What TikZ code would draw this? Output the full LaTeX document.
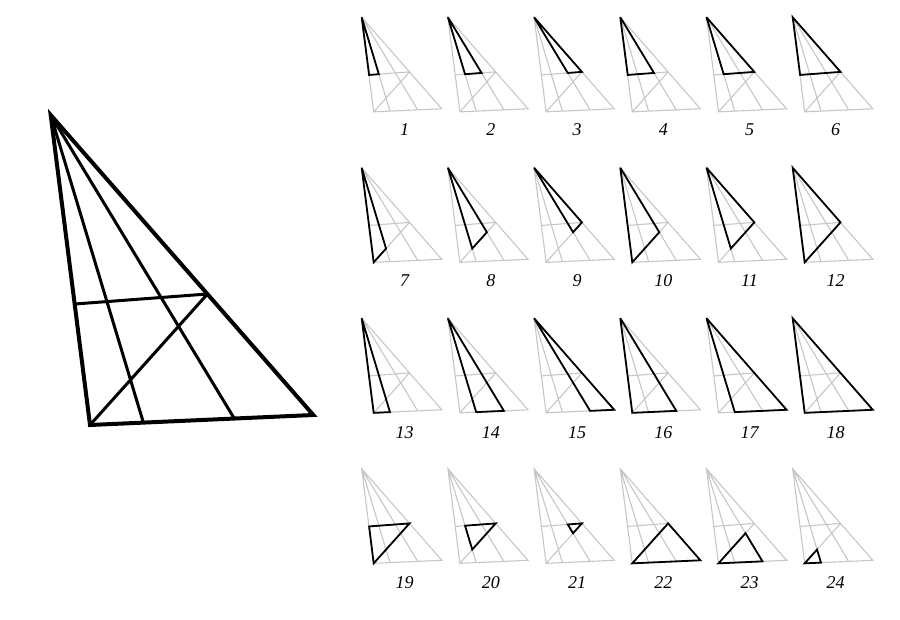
\documentclass[tikz,border=0pt]{standalone}
\usepackage{fontspec}
\setmainfont{Liberation Serif}
\begin{document}
\begin{tikzpicture}[x=1pt,y=-1pt]
\tikzset{
 grayln/.style={draw=black!22, line width=1.1pt},
 hl/.style={draw=black, line width=1.8pt, line join=miter, miter limit=4},
 mainouter/.style={draw=black, line width=4pt, line join=miter},
 maininner/.style={draw=black, line width=3pt},
 lbl/.style={font=\itshape\fontsize{18}{18}\selectfont, inner sep=0pt}
}
\newcommand\figpts{%
 \coordinate (A) at (0,0);
 \coordinate (B) at (39.3,310);
 \coordinate (C) at (262.6,300);
 \coordinate (D1) at (92.7,307.6);
 \coordinate (D2) at (183.6,303.5);
 \coordinate (P) at (24.3,189);
 \coordinate (E) at (156.8,179);
 \coordinate (Q1) at (intersection of A--D1 and P--E);
 \coordinate (Q2) at (intersection of A--D2 and P--E);
 \coordinate (R1) at (intersection of A--D1 and B--E);
 \coordinate (R2) at (intersection of A--D2 and B--E);
}
\newcommand\copyfig[5]{%
 \begin{scope}[shift={(#1,#2)},scale=0.305]
 \figpts
 \draw[grayln] (A)--(B)--(C)--cycle (A)--(D1) (A)--(D2) (P)--(E) (B)--(E);
 \draw[hl] #5 -- cycle;
 \end{scope}
 \node[lbl] (L#3) at (#1+43,#4) {#3};
}
\useasboundingbox (0,0) rectangle (900,620);
\fill[white] (0,0) rectangle (900,620);
% main figure
\begin{scope}[shift={(50.7,115)}]
 \figpts
 \draw[maininner] (A)--(D1) (A)--(D2) (P)--(E) (B)--(E);
 \draw[mainouter] (A)--(B)--(C)--cycle;
\end{scope}
% row 1
\copyfig{361.7}{17.3}{1}{130}{(A)--(P)--(Q1)}
\copyfig{447.9}{17.3}{2}{130}{(A)--(Q1)--(Q2)}
\copyfig{534.1}{17.3}{3}{130}{(A)--(Q2)--(E)}
\copyfig{620.3}{17.3}{4}{130}{(A)--(P)--(Q2)}
\copyfig{706.5}{17.3}{5}{130}{(A)--(Q1)--(E)}
\copyfig{792.7}{17.3}{6}{130}{(A)--(P)--(E)}
% row 2
\copyfig{361.7}{167.8}{7}{281}{(A)--(B)--(R1)}
\copyfig{447.9}{167.8}{8}{281}{(A)--(R1)--(R2)}
\copyfig{534.1}{167.8}{9}{281}{(A)--(R2)--(E)}
\copyfig{620.3}{167.8}{10}{281}{(A)--(B)--(R2)}
\copyfig{706.5}{167.8}{11}{281}{(A)--(R1)--(E)}
\copyfig{792.7}{167.8}{12}{281}{(A)--(B)--(E)}
% row 3
\copyfig{361.7}{318.3}{13}{433}{(A)--(B)--(D1)}
\copyfig{447.9}{318.3}{14}{433}{(A)--(D1)--(D2)}
\copyfig{534.1}{318.3}{15}{433}{(A)--(D2)--(C)}
\copyfig{620.3}{318.3}{16}{433}{(A)--(B)--(D2)}
\copyfig{706.5}{318.3}{17}{433}{(A)--(D1)--(C)}
\copyfig{792.7}{318.3}{18}{433}{(A)--(B)--(C)}
% row 4
\copyfig{361.7}{468.8}{19}{583}{(P)--(B)--(E)}
\copyfig{447.9}{468.8}{20}{583}{(Q1)--(R1)--(E)}
\copyfig{534.1}{468.8}{21}{583}{(Q2)--(R2)--(E)}
\copyfig{620.3}{468.8}{22}{583}{(B)--(C)--(E)}
\copyfig{706.5}{468.8}{23}{583}{(B)--(D2)--(R2)}
\copyfig{792.7}{468.8}{24}{583}{(B)--(D1)--(R1)}
\end{tikzpicture}
\end{document}
